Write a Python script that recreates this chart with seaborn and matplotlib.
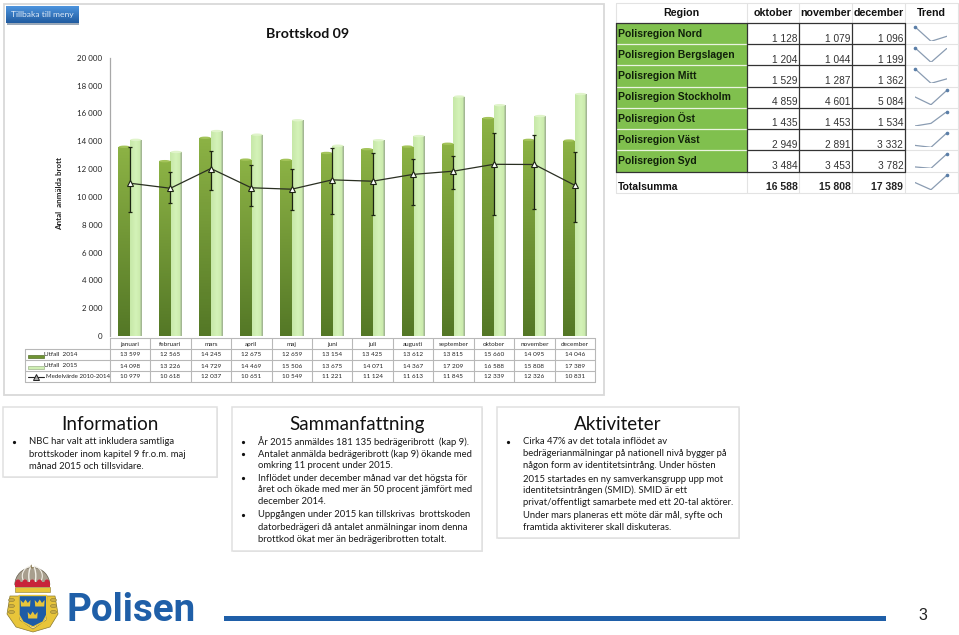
import numpy as np
import pandas as pd
import matplotlib
matplotlib.use("Agg")
import matplotlib.pyplot as plt
from matplotlib.patches import Rectangle, Ellipse, Polygon, Wedge
import seaborn as sns

months = ['januari', 'februari', 'mars', 'april', 'maj', 'juni', 'juli', 'augusti',
          'september', 'oktober', 'november', 'december']
utfall_2014 = [13599, 12565, 14245, 12675, 12659, 13154, 13425, 13612, 13815, 15660, 14095, 14046]
utfall_2015 = [14098, 13226, 14729, 14469, 15506, 13675, 14071, 14367, 17209, 16588, 15808, 17389]
medel = [10979, 10618, 12037, 10651, 10549, 11221, 11124, 11613, 11845, 12339, 12326, 10831]
err_high = [13590, 11780, 13290, 12300, 11990, 13500, 13140, 12730, 12900, 14580, 14460, 13210]
err_low = [8900, 9545, 10500, 9350, 9040, 8750, 8700, 9420, 10550, 8700, 9110, 8220]
y_ticks = [0, 2000, 4000, 6000, 8000, 10000, 12000, 14000, 16000, 18000, 20000]

regions = ['Polisregion Nord', 'Polisregion Bergslagen', 'Polisregion Mitt', 'Polisregion Stockholm',
           'Polisregion Öst', 'Polisregion Väst', 'Polisregion Syd']
region_okt = [1128, 1204, 1529, 4859, 1435, 2949, 3484]
region_nov = [1079, 1044, 1287, 4601, 1453, 2891, 3453]
region_dec = [1096, 1199, 1362, 5084, 1534, 3332, 3782]
total = [16588, 15808, 17389]

info_lines = ['NBC har valt att inkludera samtliga', 'brottskoder inom kapitel 9 fr.o.m. maj',
              'månad 2015 och tillsvidare.']
summary_lines = ['År 2015 anmäldes 181 135 bedrägeribrott  (kap 9).',
                 'Antalet anmälda bedrägeribrott (kap 9) ökande med', 'omkring 11 procent under 2015.',
                 'Inflödet under december månad var det högsta för',
                 'året och ökade med mer än 50 procent jämfört med', 'december 2014.',
                 'Uppgången under 2015 kan tillskrivas  brottskoden',
                 'datorbedrägeri då antalet anmälningar inom denna',
                 'brottkod ökat mer än bedrägeribrotten totalt.']
activity_lines = ['Cirka 47% av det totala inflödet av', 'bedrägerianmälningar på nationell nivå bygger på',
                  'någon form av identitetsintrång. Under hösten', '2015 startades en ny samverkansgrupp upp mot',
                  'identitetsintrången (SMID). SMID är ett', 'privat/offentligt samarbete med ett 20-tal aktörer.',
                  'Under mars planeras ett möte där mål, syfte och', 'framtida aktiviterer skall diskuteras.']

W, H = 959, 635
BODY = 'Lato'
ARIAL = 'Liberation Sans'
GRID = '#b8b8b8'


def fmt(v):
    return f"{v:,}".replace(',', ' ')


def px_axes(fig, x0, y0, x1, y1):
    return fig.add_axes([x0 / W, 1 - y1 / H, (x1 - x0) / W, (y1 - y0) / H])


def draw_frames(bg):
    bg.add_patch(Rectangle((3.5, 3.5), 600.5, 391, fc='white', ec='#d9d9d9', lw=1.3))
    bg.add_patch(Rectangle((6.5, 8.5), 72.5, 16, fc='#9aa8b8', ec='none', zorder=1))
    top, bot = np.array([0.30, 0.58, 0.87]), np.array([0.13, 0.36, 0.63])
    grad = (top + (bot - top) * np.linspace(0, 1, 32)[:, None])[:, None, :]
    bg.imshow(grad, extent=(6, 78.5, 23.5, 7), aspect='auto', zorder=2)
    bg.text(42, 15, 'Tillbaka till meny', color='#dfeaf7', fontsize=6.1, family=BODY,
            ha='center', va='center', zorder=3)
    bg.text(308, 34.5, 'Brottskod 09', fontsize=10.2, family=BODY, weight='bold', ha='center', va='center',
            color='#111111')
    bg.text(59.5, 193.5, 'Antal  anmälda brott', fontsize=5.8, family=BODY, weight='bold', rotation=90,
            ha='center', va='center', color='#222222')


def shade_bars(ax):
    # gradient fill and a small top cap on each bar, to get the 3D look
    n = len(months)
    for i, bar in enumerate(ax.patches):
        x, w, h = bar.get_x(), bar.get_width(), bar.get_height()
        dark = i < n
        if dark:
            top, bot = np.array([0.55, 0.70, 0.27]), np.array([0.33, 0.47, 0.15])
            img = (top + (bot - top) * np.linspace(0, 1, 64)[:, None])[:, None, :]
            cap = '#a4c45a'
        else:
            left, mid, right = np.array([0.78, 0.91, 0.66]), np.array([0.83, 0.95, 0.72]), np.array([0.64, 0.72, 0.58])
            t = np.linspace(0, 1, 16)[:, None]
            row = np.where(t < 0.5, left + (mid - left) * t * 2, mid + (mid - left) * (0.5 - t) * 2)
            row[-2:] = right
            img = row[None, :, :]
            cap = '#e0f4ca'
        im = ax.imshow(img, extent=(x, x + w, 0, h), aspect='auto', zorder=bar.get_zorder() + (0.2 if dark else 0.1))
        im.set_clip_path(bar)
        ax.add_patch(Ellipse((x + w / 2, h), w * 0.96, 170, fc=cap, ec='none',
                             zorder=bar.get_zorder() + (0.3 if dark else 0.15)))


def draw_chart(fig):
    ax = px_axes(fig, 109.8, 57.7, 595, 336)
    ax.patch.set_alpha(0)
    long = pd.DataFrame({
        'month': months * 2,
        'value': utfall_2014 + utfall_2015,
        'serie': ['Utfall 2014'] * 12 + ['Utfall 2015'] * 12,
    })
    sns.barplot(data=long, x='month', y='value', hue='serie', palette=['#6f9433', '#cfefb3'],
                width=0.57, gap=0, saturation=1, legend=False, ax=ax, zorder=2)
    shade_bars(ax)
    pos = np.arange(len(months))
    m = np.array(medel)
    ax.errorbar(pos, m, yerr=[m - np.array(err_low), np.array(err_high) - m], fmt='none', ecolor='#1c2412',
                elinewidth=0.9, capsize=1.6, capthick=0.9, zorder=5)
    sns.lineplot(x=pos, y=medel, color='#2a2f22', lw=0.9, marker='^', markersize=4, markerfacecolor='white',
                 markeredgecolor='#1c2412', markeredgewidth=0.8, ax=ax, zorder=6, legend=False)
    ax.set_xlim(-0.5, 11.5)
    ax.set_ylim(0, 20000)
    ax.set_yticks(y_ticks)
    ax.set_yticklabels([fmt(v) for v in y_ticks], fontsize=5.7, family=BODY, color='#222222')
    ax.tick_params(axis='y', length=2.5, pad=3, width=0.7, color='#999999')
    ax.tick_params(axis='x', length=0, labelbottom=False)
    ax.set_xlabel('')
    ax.set_ylabel('')
    ax.grid(False)
    sns.despine(ax=ax, bottom=True)
    ax.spines['left'].set_color('#a8a8a8')
    ax.spines['left'].set_linewidth(0.9)


def draw_data_table(bg):
    xs = 109.8 + np.arange(13) * (595 - 109.8) / 12
    rows = [338.3, 349.3, 360, 371, 382]
    for y in rows:
        bg.plot([xs[0] if y == rows[0] else 25, 595], [y, y], color=GRID, lw=0.8, zorder=3)
    for x in xs:
        bg.plot([x, x], [rows[0], rows[-1]], color=GRID, lw=0.8, zorder=3)
    bg.plot([25, 25], [rows[1], rows[-1]], color=GRID, lw=0.8, zorder=3)
    for i, name in enumerate(months):
        cx = (xs[i] + xs[i + 1]) / 2
        bg.text(cx, 344.2, name, fontsize=4.6, family=BODY, ha='center', va='center', color='#222222', zorder=4)
        for y, series in zip((355, 366, 376.7), (utfall_2014, utfall_2015, medel)):
            bg.text(cx, y, fmt(series[i]), fontsize=4.6, family=BODY, ha='center', va='center',
                    color='#222222', zorder=4)
    bg.text(44.5, 354.8, 'Utfall  2014', fontsize=4.6, family=BODY, va='center', color='#222222', zorder=4)
    bg.text(44.5, 365.8, 'Utfall  2015', fontsize=4.6, family=BODY, va='center', color='#222222', zorder=4)
    bg.text(45.5, 376.6, 'Medelvärde 2010-2014', fontsize=4.4, family=BODY, va='center', color='#222222', zorder=4)
    bg.add_patch(Rectangle((28, 354.5), 16, 3, fc='#6f9433', ec='#55702a', lw=0.5, zorder=4))
    bg.add_patch(Rectangle((28, 365.5), 16, 3, fc='#cfefb3', ec='#9fb58c', lw=0.5, zorder=4))
    bg.plot([28, 44], [376.5, 376.5], color='#222222', lw=0.8, zorder=4)
    bg.plot([36], [376.5], marker='^', ms=4.5, mfc='#aaaaaa', mec='#222222', mew=0.7, zorder=5)


def draw_region_table(fig, bg):
    rows = [23.3, 44.3, 65.3, 86.7, 108, 129.3, 150.3, 171.7, 192.7]
    cols = [615.7, 746.7, 799.3, 852, 904.7, 958]
    light = '#e3e3e3'
    for x in [615.7] + cols[1:]:
        bg.plot([x, x], [2.5, 23.3], color=light, lw=0.8)
        bg.plot([x, x], [171.7, 192.7], color=light, lw=0.8)
    bg.plot([615.7, 958], [2.5, 2.5], color=light, lw=0.8)
    bg.plot([615.7, 958], [192.7, 192.7], color=light, lw=0.8)
    for x in (904.7, 958):
        bg.plot([x, x], [23.3, 171.7], color=light, lw=0.8)
    for y in rows[1:8]:
        bg.plot([904.7, 958], [y, y], color=light, lw=0.8)
    bg.plot([904.7, 958], [23.3, 23.3], color=light, lw=0.8)
    heads = [('Region', 681), ('oktober', 773), ('november', 825.5), ('december', 878.5), ('Trend', 931)]
    for txt, x in heads:
        bg.text(x, 12.8, txt, fontsize=7.7, family=ARIAL, weight='bold', ha='center', va='center', color='#111111')
    for i, name in enumerate(regions):
        top, bot = rows[i], rows[i + 1]
        bg.add_patch(Rectangle((616, top), 130.7, bot - top, fc='#80c04e', ec='none', zorder=2))
        bg.plot([616, 746.7], [bot, bot], color='#eaf4e0' if i < 6 else '#333333', lw=0.9, zorder=3)
        bg.text(617.5, top + 10.5, name, fontsize=7.5, family=ARIAL, weight='bold', va='center',
                color='#10200a', zorder=4)
        for j, vals in enumerate((region_okt, region_nov, region_dec)):
            bg.text(cols[j + 2] - 1.5, top + 15.3, fmt(vals[i]), fontsize=7.3, family=ARIAL, ha='right',
                    va='center', color='#333333', zorder=4)
        bg.plot([746.7, 904.7], [bot, bot], color='#333333', lw=0.9, zorder=3)
        sparkline(fig, rows[i] + 3.5, [region_okt[i], region_nov[i], region_dec[i]])
    bg.plot([616, 904.7], [23.3, 23.3], color='#333333', lw=0.9, zorder=3)
    for x in cols[0:5]:
        bg.plot([x, x], [23.3, 171.7], color='#333333', lw=0.9, zorder=3)
    bg.text(617.5, 186.5, 'Totalsumma', fontsize=7.5, family=ARIAL, weight='bold', va='center', color='#111111')
    for j, v in enumerate(total):
        bg.text(cols[j + 2] - 1.5, 186.5, fmt(v), fontsize=7.5, family=ARIAL, weight='bold', ha='right',
                va='center', color='#222222')
    sparkline(fig, rows[7] + 3.5, total)


def sparkline(fig, top, vals):
    ax = px_axes(fig, 915, top, 947, top + 14.5)
    ax.patch.set_alpha(0)
    sns.lineplot(x=[0, 1, 2], y=vals, color='#8a9cb2', lw=0.9, ax=ax, legend=False)
    k = int(np.argmax(vals))
    ax.plot([k], [vals[k]], marker='o', ms=1.6, color='#5b7fa8', clip_on=False)
    ax.set_xlim(0, 2)
    ax.set_ylim(min(vals), max(vals))
    ax.axis('off')


def text_box(bg, x0, y0, x1, y1, title, lines, ys, bullets, text_x, bullet_x):
    bg.add_patch(Rectangle((x0 + 1, y0 + 1), x1 - x0, y1 - y0, fc='#e8e8e8', ec='none', zorder=1))
    bg.add_patch(Rectangle((x0, y0), x1 - x0, y1 - y0, fc='white', ec='#e0e0e0', lw=1.1, zorder=2))
    bg.text((x0 + x1) / 2, y0 + 17.5, title, fontsize=13.5, family=BODY, ha='center', va='center',
            color='#111111', zorder=3)
    for i, (line, y) in enumerate(zip(lines, ys)):
        bg.text(text_x, y, line, fontsize=6.85, family=BODY, va='center', color='#1a1a1a', zorder=3)
        if i in bullets:
            bg.plot([bullet_x], [y], marker='o', ms=1.3, color='#111111', zorder=3)


def draw_logo(bg):
    gold = '#e8c53a'
    # wreath
    bg.add_patch(Polygon([(10, 596), (19, 596), (20, 620), (33, 629), (46, 620), (47, 596), (55, 596), (58, 614),
                          (50, 627), (33, 632), (16, 627), (7, 614)], fc=gold, ec='#8a7a30', lw=0.5))
    for cx in (11.5, 53.5):
        for cy in (600, 606, 612):
            bg.add_patch(Ellipse((cx, cy), 6, 3.2, fc='#c8ac45', ec='#77692c', lw=0.3))
    # crown
    bg.add_patch(Wedge((32.3, 585), 17.5, 180, 360, fc='#a89f8e', ec='#655d4c', lw=0.5))
    bg.add_patch(Ellipse((32.3, 576), 7, 20, fc='none', ec='#f2efe6', lw=1))
    bg.add_patch(Ellipse((32.3, 576), 20, 20, fc='none', ec='#f2efe6', lw=0.8))
    bg.add_patch(Ellipse((32.3, 566.5), 3.6, 4, fc='#8b7b55', ec='none'))
    bg.add_patch(Rectangle((31.7, 562.8), 1.2, 3, fc='#7a6a45'))
    bg.add_patch(Rectangle((15, 582), 35, 5, fc='#c8233a', ec='none'))
    for cx in (18, 25, 32.3, 39.5, 47):
        bg.add_patch(Ellipse((cx, 582), 5, 5, fc='#c8233a', ec='none'))
    bg.add_patch(Rectangle((14.7, 587), 35.3, 4.5, fc=gold, ec='#8a7a30', lw=0.4))
    # shield
    bg.add_patch(Polygon([(19, 595.5), (46.7, 595.5), (46.7, 615), (43, 622), (33, 627), (23, 622), (19, 615)],
                         fc='#1e5ca6', ec=gold, lw=1))
    for cx, cy in ((25.5, 603), (39.7, 603), (32.7, 615)):
        bg.add_patch(Polygon([(cx - 4.5, cy + 3.5), (cx - 5, cy - 3), (cx - 2.3, cy), (cx, cy - 3.5), (cx + 2.3, cy),
                              (cx + 5, cy - 3), (cx + 4.5, cy + 3.5)], fc=gold, ec='none'))
    bg.text(66.5, 621.3, 'Polisen', fontsize=27.7, family='Roboto', weight='bold', color='#1f5fa8', va='baseline')
    bg.add_patch(Rectangle((223.5, 615.5), 662, 5.5, fc='#1f5fa8', ec='none'))
    bg.text(923, 616, '3', fontsize=11.5, family=ARIAL, ha='center', va='center', color='#222222')


def main():
    sns.set_theme(style='white')
    plt.rcParams['font.family'] = [BODY, 'DejaVu Sans']
    fig = plt.figure(figsize=(W / 100, H / 100), dpi=100, facecolor='white')
    bg = fig.add_axes([0, 0, 1, 1])
    bg.set_xlim(0, W)
    bg.set_ylim(H, 0)
    bg.axis('off')

    draw_frames(bg)
    bg.set_xlim(0, W)
    bg.set_ylim(H, 0)
    draw_data_table(bg)
    draw_region_table(fig, bg)
    text_box(bg, 3, 407, 217, 477, 'Information', info_lines, [442, 454.7, 466.3], [0], 29, 13.5)
    text_box(bg, 232, 407, 482, 551, 'Sammanfattning', summary_lines,
             [441.7, 454, 466, 478.3, 490, 502, 514.7, 527, 539], [0, 1, 3, 6], 258, 243)
    text_box(bg, 497, 407, 739, 538, 'Aktiviteter', activity_lines,
             [441.7, 454, 466, 479, 490.7, 502.7, 515, 527], [0], 522.7, 508)
    draw_logo(bg)
    draw_chart(fig)
    fig.savefig('out.png', dpi=100, facecolor='white')


if __name__ == "__main__":
    main()
